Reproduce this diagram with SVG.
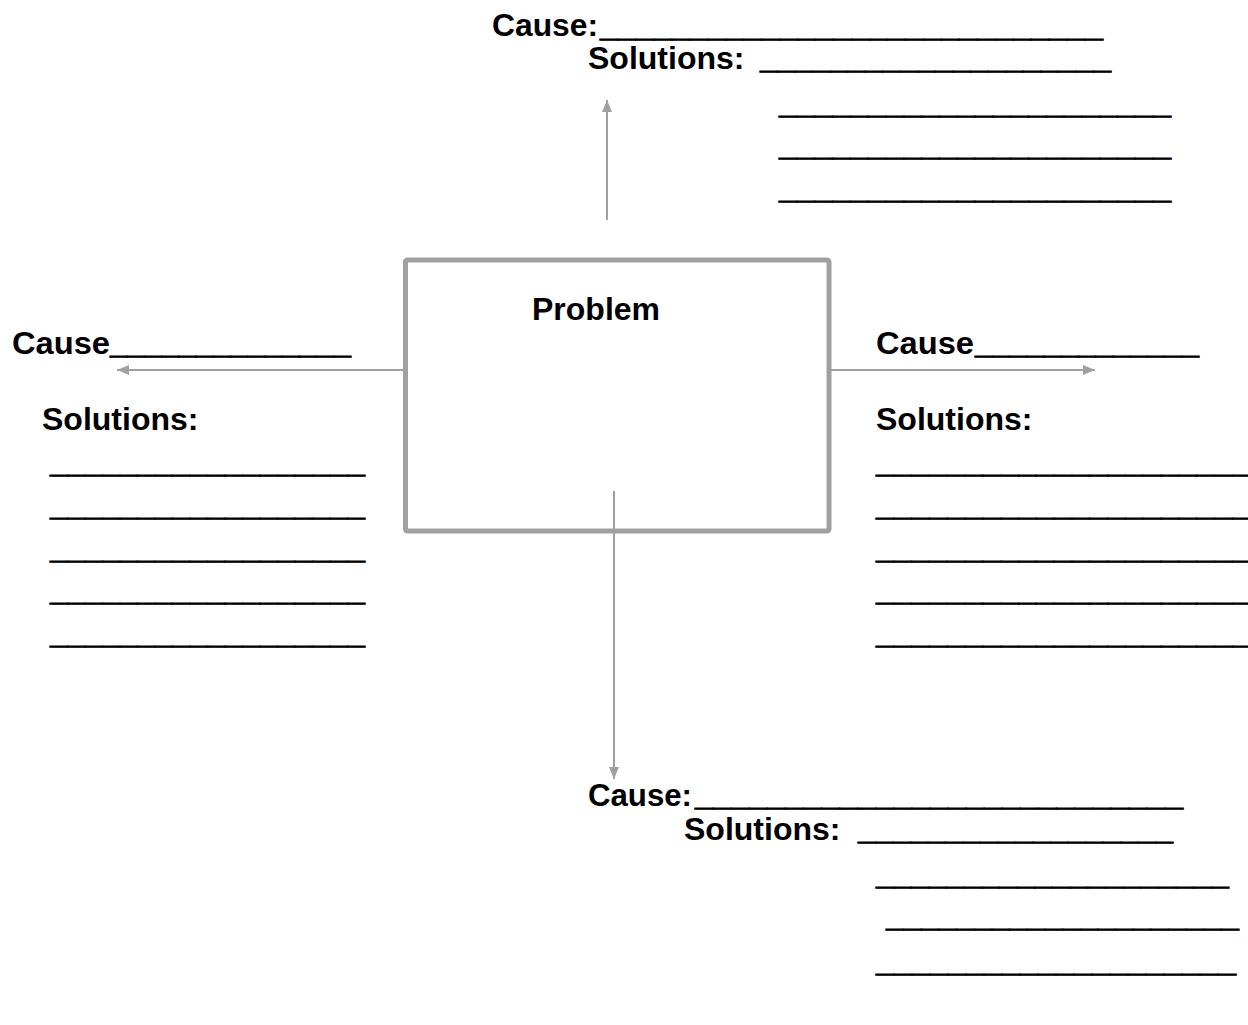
<svg xmlns="http://www.w3.org/2000/svg" width="1248" height="1025" viewBox="0 0 1248 1025">
<style>
  text { font-family: "Liberation Sans", Arial, sans-serif; font-weight: bold; font-size: 32px; fill: #000; }
  text.u { stroke: #000; stroke-width: 0.9; }
  .conn { stroke: #a0a0a0; stroke-width: 2; fill: none; }
  .box { stroke: #a0a0a0; stroke-width: 5; fill: #fff; }
</style>
<defs>
  <marker id="arr" markerUnits="userSpaceOnUse" markerWidth="12" markerHeight="10" refX="12" refY="5" orient="auto">
    <path d="M0,0 L12,5 L0,10 z" fill="#a0a0a0"/>
  </marker>
</defs>
<rect width="1248" height="1025" fill="#fff"/>

<g id="problem">
  <rect class="box" x="405.5" y="260" width="423.5" height="271" rx="2"/>
  <text x="532" y="320">Problem</text>
</g>

<g id="connectors">
  <line class="conn" x1="607" y1="220" x2="607" y2="100" marker-end="url(#arr)"/>
  <line class="conn" x1="404" y1="370" x2="117" y2="370" marker-end="url(#arr)"/>
  <line class="conn" x1="831" y1="370" x2="1095" y2="370" marker-end="url(#arr)"/>
  <line class="conn" x1="614" y1="491" x2="614" y2="779" marker-end="url(#arr)"/>
</g>

<g id="cause-top">
  <text x="492" y="36" textLength="106" lengthAdjust="spacingAndGlyphs">Cause:</text>
  <text class="u" x="600" y="36" textLength="503" lengthAdjust="spacingAndGlyphs">____________________________</text>
  <text x="588" y="69">Solutions:</text>
  <text class="u" x="760" y="68" textLength="351" lengthAdjust="spacingAndGlyphs">____________________</text>
  <text class="u" x="779" y="113" textLength="392" lengthAdjust="spacingAndGlyphs">______________________</text>
  <text class="u" x="779" y="155" textLength="392" lengthAdjust="spacingAndGlyphs">______________________</text>
  <text class="u" x="779" y="198" textLength="392" lengthAdjust="spacingAndGlyphs">______________________</text>
</g>

<g id="cause-left">
  <text x="12" y="354" textLength="98" lengthAdjust="spacingAndGlyphs">Cause</text>
  <text class="u" x="110" y="353" textLength="241" lengthAdjust="spacingAndGlyphs">______________</text>
  <text x="42" y="430">Solutions:</text>
  <text class="u" x="50" y="472" textLength="315" lengthAdjust="spacingAndGlyphs">__________________</text>
  <text class="u" x="50" y="515" textLength="315" lengthAdjust="spacingAndGlyphs">__________________</text>
  <text class="u" x="50" y="558" textLength="315" lengthAdjust="spacingAndGlyphs">__________________</text>
  <text class="u" x="50" y="600" textLength="315" lengthAdjust="spacingAndGlyphs">__________________</text>
  <text class="u" x="50" y="643" textLength="315" lengthAdjust="spacingAndGlyphs">__________________</text>
</g>

<g id="cause-right">
  <text x="876" y="354" textLength="98" lengthAdjust="spacingAndGlyphs">Cause</text>
  <text class="u" x="975" y="353" textLength="224" lengthAdjust="spacingAndGlyphs">_____________</text>
  <text x="876" y="430">Solutions:</text>
  <text class="u" x="876" y="472" textLength="374" lengthAdjust="spacingAndGlyphs">_____________________</text>
  <text class="u" x="876" y="515" textLength="374" lengthAdjust="spacingAndGlyphs">_____________________</text>
  <text class="u" x="876" y="558" textLength="374" lengthAdjust="spacingAndGlyphs">_____________________</text>
  <text class="u" x="876" y="600" textLength="374" lengthAdjust="spacingAndGlyphs">_____________________</text>
  <text class="u" x="876" y="643" textLength="374" lengthAdjust="spacingAndGlyphs">_____________________</text>
</g>

<g id="cause-bottom">
  <text x="588" y="806" textLength="104" lengthAdjust="spacingAndGlyphs">Cause:</text>
  <text class="u" x="695" y="805" textLength="488" lengthAdjust="spacingAndGlyphs">___________________________</text>
  <text x="684" y="840">Solutions:</text>
  <text class="u" x="858" y="839" textLength="315" lengthAdjust="spacingAndGlyphs">__________________</text>
  <text class="u" x="876" y="884" textLength="353" lengthAdjust="spacingAndGlyphs">____________________</text>
  <text class="u" x="886" y="926" textLength="353" lengthAdjust="spacingAndGlyphs">____________________</text>
  <text class="u" x="876" y="971" textLength="360" lengthAdjust="spacingAndGlyphs">____________________</text>
</g>
</svg>
